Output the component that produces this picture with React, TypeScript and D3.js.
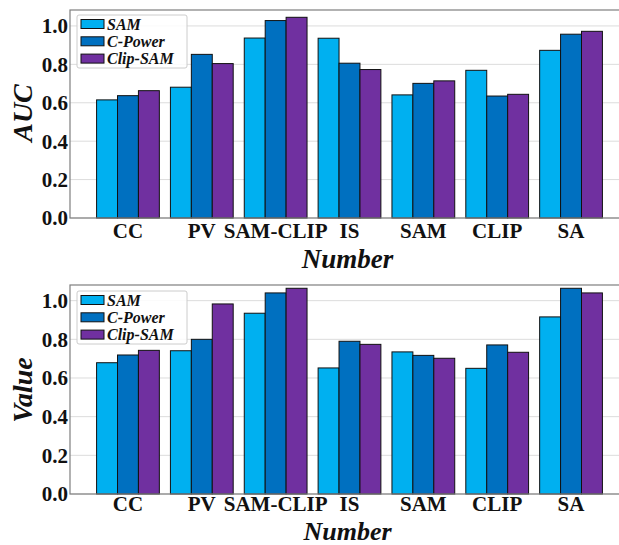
import { useEffect, useRef } from "react";
import * as d3 from "d3";

const categories = ["CC", "PV", "SAM-CLIP", "IS", "SAM", "CLIP", "SA"];
const seriesNames = ["SAM", "C-Power", "Clip-SAM"];
const colors = ["#00b0f0", "#0070c0", "#7030a0"];

// top panel (AUC)
const aucSam = [0.615, 0.681, 0.937, 0.936, 0.641, 0.769, 0.873];
const aucCPower = [0.637, 0.852, 1.028, 0.806, 0.701, 0.635, 0.957];
const aucClipSam = [0.663, 0.804, 1.045, 0.773, 0.714, 0.644, 0.972];

// bottom panel (Value)
const valSam = [0.679, 0.741, 0.935, 0.652, 0.735, 0.65, 0.916];
const valCPower = [0.719, 0.8, 1.04, 0.79, 0.717, 0.771, 1.064];
const valClipSam = [0.743, 0.983, 1.064, 0.774, 0.702, 0.733, 1.04];

const yTicks = [0, 0.2, 0.4, 0.6, 0.8, 1.0];

const FONT = "'Times New Roman', 'Liberation Serif', serif";

const App = () => {
  const ref = useRef<SVGSVGElement>(null);

  useEffect(() => {
    const svg = d3.select(ref.current);
    svg.selectAll("*").remove();

    const width = 619;
    const height = 545;
    svg.attr("width", width).attr("height", height);

    const left = 70;
    const right = 629;

    const panels = [
      { series: [aucSam, aucCPower, aucClipSam], top: 10, bottom: 218, ymax: 1.083, ylabel: "AUC", ylabelY: 113, tickY: 238, xlabelY: 268, xlabelSize: 27, legendTop: 15 },
      { series: [valSam, valCPower, valClipSam], top: 285, bottom: 494, ymax: 1.081, ylabel: "Value", ylabelY: 390, tickY: 511, xlabelY: 540, xlabelSize: 26, legendTop: 291 },
    ];

    const x = d3.scaleBand().domain(categories).range([left, right]).paddingInner(0.15).paddingOuter(0.36);
    const xs = d3.scaleBand().domain(seriesNames).range([0, x.bandwidth()]);

    panels.forEach((p) => {
      const y = d3.scaleLinear().domain([0, p.ymax]).range([p.bottom, p.top]);
      const g = svg.append("g");

      // grid
      g.selectAll(".grid")
        .data(yTicks)
        .join("line")
        .attr("x1", left)
        .attr("x2", right)
        .attr("y1", (d) => y(d))
        .attr("y2", (d) => y(d))
        .attr("stroke", "#dcdcdc")
        .attr("stroke-width", 1);

      // bars
      p.series.forEach((vals, si) => {
        g.selectAll(`.bar${si}`)
          .data(vals)
          .join("rect")
          .attr("x", (_, i) => (x(categories[i]) as number) + (xs(seriesNames[si]) as number))
          .attr("y", (d) => y(d))
          .attr("width", xs.bandwidth())
          .attr("height", (d) => y(0) - y(d))
          .attr("fill", colors[si])
          .attr("stroke", "#111")
          .attr("stroke-width", 1);
      });

      // frame
      g.append("rect")
        .attr("x", left)
        .attr("y", p.top)
        .attr("width", right - left)
        .attr("height", p.bottom - p.top)
        .attr("fill", "none")
        .attr("stroke", "#7f7f7f")
        .attr("stroke-width", 1.2);

      // y ticks
      g.selectAll(".yt")
        .data(yTicks)
        .join("text")
        .attr("x", left - 2)
        .attr("y", (d) => y(d))
        .attr("dy", "0.35em")
        .attr("text-anchor", "end")
        .attr("font-family", FONT)
        .attr("font-weight", "bold")
        .attr("font-size", 21)
        .attr("fill", "#111")
        .text((d) => d3.format(".1f")(d));

      // x ticks
      g.selectAll(".xt")
        .data(categories)
        .join("text")
        .attr("x", (d) => (x(d) as number) + x.bandwidth() / 2)
        .attr("y", p.tickY)
        .attr("text-anchor", "middle")
        .attr("font-family", FONT)
        .attr("font-weight", "bold")
        .attr("font-size", 21)
        .attr("fill", "#111")
        .text((d) => d);

      // axis labels
      g.append("text")
        .attr("transform", `translate(32,${p.ylabelY}) rotate(-90)`)
        .attr("text-anchor", "middle")
        .attr("font-family", FONT)
        .attr("font-weight", "bold")
        .attr("font-style", "italic")
        .attr("font-size", 28)
        .attr("fill", "#111")
        .text(p.ylabel);

      g.append("text")
        .attr("x", (left + right) / 2 - 2)
        .attr("y", p.xlabelY)
        .attr("text-anchor", "middle")
        .attr("font-family", FONT)
        .attr("font-weight", "bold")
        .attr("font-style", "italic")
        .attr("font-size", p.xlabelSize)
        .attr("fill", "#111")
        .text("Number");

      // legend
      const lg = g.append("g").attr("transform", `translate(77,${p.legendTop})`);
      lg.append("rect")
        .attr("width", 110)
        .attr("height", 53)
        .attr("rx", 2)
        .attr("fill", "white")
        .attr("fill-opacity", 0.85)
        .attr("stroke", "#cccccc");
      seriesNames.forEach((name, si) => {
        const cy = 9 + si * 17.3;
        lg.append("rect")
          .attr("x", 4)
          .attr("y", cy - 4.5)
          .attr("width", 23)
          .attr("height", 9)
          .attr("fill", colors[si])
          .attr("stroke", "#111")
          .attr("stroke-width", 1);
        lg.append("text")
          .attr("x", 30)
          .attr("y", cy)
          .attr("dy", "0.35em")
          .attr("font-family", FONT)
          .attr("font-weight", "bold")
          .attr("font-style", "italic")
          .attr("font-size", 16)
          .attr("fill", "#111")
          .text(name);
      });
    });
  }, []);

  return (
    <div style={{ position: "absolute", left: 0, top: 0 }}>
      <svg ref={ref} style={{ display: "block" }}></svg>
    </div>
  );
};

export default App;
